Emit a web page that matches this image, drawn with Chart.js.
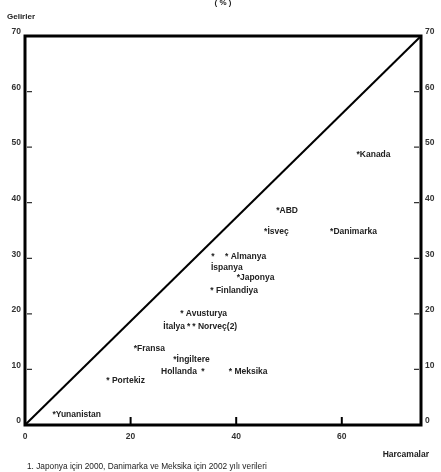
<!DOCTYPE html>
<html>
<head>
<meta charset="utf-8">
<script src="https://cdn.jsdelivr.net/npm/chart.js@4.4.1/dist/chart.umd.min.js"></script>
<style>
    html, body { margin: 0; padding: 0; background: #fff; }
    #kutu { width: 441px; height: 472px; }
</style>
</head>
<body>
<div id="kutu"><canvas id="gelirHarcamaChart" width="441" height="472"></canvas></div>
<script>
// ===== VERİLER =====
const ulkeler = ['Kanada', 'ABD', 'İsveç', 'Danimarka', 'İspanya', 'Almanya', 'Japonya', 'Finlandiya',
    'Avusturya', 'İtalya', 'Norveç(2)', 'Fransa', 'İngiltere', 'Hollanda', 'Meksika', 'Portekiz', 'Yunanistan'];
const harcamalar = [63.1, 47.9, 45.6, 58.1, 35.6, 38.2, 40.4, 35.4, 29.7, 31.0, 32.0, 20.9, 28.4, 33.7, 38.9, 15.7, 5.5];
const gelirler = [49.1, 39.0, 35.2, 35.2, 30.8, 30.8, 27.0, 24.7, 20.6, 18.2, 18.2, 14.2, 12.2, 10.0, 10.0, 8.5, 2.4];
const xTikler = [0, 20, 40, 60];
const kosegenX = [0, 75];
const kosegenY = [0, 70];

const baslik = '( % )';
const yEksenAdi = 'Gelirler';
const xEksenAdi = 'Harcamalar';
const dipnot = '1. Japonya için 2000, Danimarka ve Meksika için 2002 yılı verileri';

// etiket yerleşimi (varsayılan: yıldızın sağında)
const etiketYeri = { 'İspanya': 'alt', 'İtalya': 'sol', 'Hollanda': 'sol' };
const boslukluEtiket = ['Almanya', 'Finlandiya', 'Avusturya', 'Norveç(2)', 'Hollanda', 'Meksika', 'Portekiz'];

const FONT = '"Liberation Sans", Arial, sans-serif';

// ===== YILDIZ + ÜLKE ADLARI =====
const yildizEtiketler = {
    id: 'yildizEtiketler',
    afterDatasetsDraw(chart) {
        const ctx = chart.ctx;
        const meta = chart.getDatasetMeta(1);
        ctx.save();
        ctx.font = 'bold 8.5px ' + FONT;
        ctx.fillStyle = '#222';
        ctx.textBaseline = 'alphabetic';
        const yw = ctx.measureText('*').width;
        const sw = ctx.measureText(' ').width;
        meta.data.forEach((p, i) => {
            const ad = ulkeler[i];
            const by = p.y + 5;
            ctx.textAlign = 'center';
            ctx.fillText('*', p.x, by);
            const bosluk = boslukluEtiket.includes(ad) ? sw : 0;
            const yer = etiketYeri[ad] || 'sag';
            if (yer === 'sag') {
                ctx.textAlign = 'left';
                ctx.fillText(ad, p.x + yw / 2 + bosluk, by);
            } else if (yer === 'sol') {
                ctx.textAlign = 'right';
                ctx.fillText(ad, p.x - yw / 2 - bosluk - 2, by);
            } else {
                ctx.textAlign = 'left';
                ctx.fillText(ad, p.x - 2, by + 11);
            }
        });
        ctx.restore();
    }
};

// ===== ÇERÇEVE, TİK ÇİZGİLERİ, YAZILAR =====
const cerceve = {
    id: 'cerceve',
    afterDraw(chart) {
        const ctx = chart.ctx;
        const a = chart.chartArea;
        const x = chart.scales.x, y = chart.scales.y;
        ctx.save();
        ctx.strokeStyle = '#000';
        ctx.lineWidth = 3;
        ctx.strokeRect(a.left, a.top, a.right - a.left, a.bottom - a.top);

        // iç tikler
        ctx.lineWidth = 1.2;
        ctx.strokeStyle = '#333';
        y.ticks.forEach(t => {
            if (t.value === 0 || t.value === 70) return;
            const py = y.getPixelForValue(t.value);
            ctx.beginPath();
            ctx.moveTo(a.left + 2, py); ctx.lineTo(a.left + 7, py);
            ctx.moveTo(a.right - 7, py); ctx.lineTo(a.right - 2, py);
            ctx.stroke();
        });
        ctx.lineWidth = 2;
        ctx.strokeStyle = '#000';
        xTikler.forEach(v => {
            if (v === 0) return;
            const px = x.getPixelForValue(v);
            ctx.beginPath();
            ctx.moveTo(px, a.bottom); ctx.lineTo(px, a.bottom - 8);
            ctx.stroke();
        });

        // yazılar
        ctx.fillStyle = '#222';
        ctx.textBaseline = 'middle';
        ctx.font = 'bold 8px ' + FONT;
        ctx.textAlign = 'center';
        ctx.fillText(baslik, (a.left + a.right) / 2, 3);
        ctx.textAlign = 'left';
        ctx.fillText(yEksenAdi, 7, 17);
        ctx.font = 'bold 8.5px ' + FONT;
        ctx.textAlign = 'right';
        ctx.fillText(xEksenAdi, 429, 455);
        ctx.font = '8.3px ' + FONT;
        ctx.textAlign = 'left';
        ctx.fillText(dipnot, 27, 467);
        ctx.restore();
    }
};

const tikYazi = { size: 8.5, weight: 'bold', family: FONT };
const izgaraYok = { display: false, drawTicks: false, tickLength: 0 };

new Chart(document.getElementById('gelirHarcamaChart'), {
    type: 'scatter',
    data: {
        datasets: [{
            type: 'line',
            data: kosegenX.map((v, i) => ({ x: v, y: kosegenY[i] })),
            borderColor: '#000',
            borderWidth: 2,
            pointRadius: 0,
            fill: false
        }, {
            data: harcamalar.map((v, i) => ({ x: v, y: gelirler[i] })),
            pointRadius: 0,
            pointHoverRadius: 0
        }]
    },
    options: {
        responsive: false,
        animation: false,
        devicePixelRatio: 1,
        layout: { padding: { top: 36, left: 0, right: 0, bottom: 0 } },
        plugins: { legend: { display: false }, tooltip: { enabled: false } },
        scales: {
            x: {
                type: 'linear', min: 0, max: 75,
                grid: izgaraYok,
                border: { display: false },
                afterBuildTicks: s => { s.ticks = s.ticks.filter(t => xTikler.includes(t.value)); },
                afterFit: s => { s.height = 47; },
                ticks: { stepSize: 20, color: '#333', font: tikYazi, padding: 7, maxRotation: 0 }
            },
            y: {
                type: 'linear', position: 'left', min: 0, max: 70,
                grid: izgaraYok,
                border: { display: false },
                afterFit: s => { s.width = 25; },
                ticks: { stepSize: 10, color: '#333', font: tikYazi, padding: 4, labelOffset: -4 }
            },
            y2: {
                type: 'linear', position: 'right', min: 0, max: 70,
                grid: izgaraYok,
                border: { display: false },
                afterFit: s => { s.width = 20; },
                ticks: { stepSize: 10, color: '#333', font: tikYazi, padding: 4, labelOffset: -4 }
            }
        }
    },
    plugins: [yildizEtiketler, cerceve]
});
</script>
</body>
</html>
